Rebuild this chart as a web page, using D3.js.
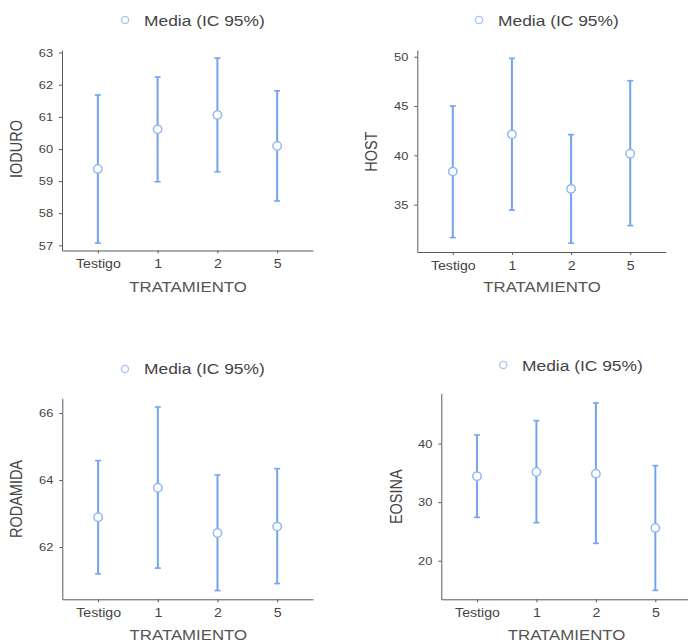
<!DOCTYPE html>
<html>
<head>
<meta charset="utf-8">
<script src="https://cdn.jsdelivr.net/npm/d3@7"></script>
<style>
  html, body { margin: 0; padding: 0; background: #fff; }
  svg { display: block; font-family: "Liberation Sans", Arial, sans-serif; }
</style>
</head>
<body>
<svg id="chart" width="688" height="642"></svg>
<script>
// ---- data ----
const categories = ["Testigo", "1", "2", "5"];
const legendLabel = "Media (IC 95%)";
const xTitle = "TRATAMIENTO";

const ioduroMean  = [59.38, 60.61, 61.06, 60.09];
const ioduroLower = [57.07, 58.98, 59.29, 58.38];
const ioduroUpper = [61.68, 62.24, 62.83, 61.81];
const ioduroTicks = [57, 58, 59, 60, 61, 62, 63];

const hostMean  = [38.35, 42.13, 36.60, 40.17];
const hostLower = [31.66, 34.44, 31.10, 32.88];
const hostUpper = [45.00, 49.84, 42.10, 47.57];
const hostTicks = [35, 40, 45, 50];

const rodaMean  = [62.89, 63.77, 62.42, 62.61];
const rodaLower = [61.20, 61.37, 60.70, 60.91];
const rodaUpper = [64.58, 66.18, 64.15, 64.34];
const rodaTicks = [62, 64, 66];

const eosMean  = [34.42, 35.16, 34.87, 25.60];
const eosLower = [27.40, 26.50, 22.96, 14.93];
const eosUpper = [41.48, 43.93, 46.95, 36.24];
const eosTicks = [20, 30, 40];

// ---- layout (positions/styles only) ----
const panels = [
  { name: "IODURO", mean: ioduroMean, lo: ioduroLower, hi: ioduroUpper, ticks: ioduroTicks,
    domain: [56.84, 63.08], x0: 62, x1: 313, yTop: 50, yBot: 250.5,
    leg: [125, 20, 144, 26], yt: [22, 149], xt: [188, 292] },
  { name: "HOST", mean: hostMean, lo: hostLower, hi: hostUpper, ticks: hostTicks,
    domain: [30.2, 50.68], x0: 417.3, x1: 665.7, yTop: 50, yBot: 252,
    leg: [479, 20, 498, 26], yt: [377.3, 151.7], xt: [542, 292] },
  { name: "RODAMIDA", mean: rodaMean, lo: rodaLower, hi: rodaUpper, ticks: rodaTicks,
    domain: [60.44, 66.44], x0: 62.3, x1: 313, yTop: 398.3, yBot: 599.3,
    leg: [125, 369, 144, 374], yt: [22, 499], xt: [188.3, 639.5] },
  { name: "EOSINA", mean: eosMean, lo: eosLower, hi: eosUpper, ticks: eosTicks,
    domain: [13.4, 48.6], x0: 441.3, x1: 691, yTop: 393.3, yBot: 599.3,
    leg: [503.3, 365, 522, 370.7], yt: [402, 496.7], xt: [566.5, 640] }
];

const barColor = "#74a3ee";
const markColor = "#93b8f2";
const axisColor = "#5a5a5a";
const textColor = "#444";

const svg = d3.select("#chart");

function stretchedText(g, x, y, str, size, anchor, fill, sx) {
  return g.append("text")
    .attr("transform", `translate(${x},${y}) scale(${sx},1)`)
    .attr("text-anchor", anchor)
    .attr("font-size", size)
    .attr("fill", fill)
    .text(str);
}

panels.forEach(p => {
  const g = svg.append("g");
  const y = d3.scaleLinear().domain(p.domain).range([p.yBot, p.yTop]);
  const x = d3.scalePoint().domain(categories).range([p.x0, p.x1]).padding(0.6);

  // y axis
  const ya = g.append("g").attr("transform", `translate(${p.x0},0)`)
    .call(d3.axisLeft(y).tickValues(p.ticks).tickFormat(d3.format("d"))
      .tickSize(3).tickSizeOuter(0).tickPadding(5));
  ya.select(".domain").attr("stroke", axisColor);
  ya.selectAll(".tick line").attr("stroke", axisColor);
  ya.selectAll(".tick text").attr("font-size", 11.5).attr("fill", textColor)
    .attr("font-family", "Liberation Sans, Arial, sans-serif")
    .attr("transform", `scale(1.12,1)`);

  // x axis
  const xa = g.append("g").attr("transform", `translate(0,${p.yBot})`)
    .call(d3.axisBottom(x).tickSize(3).tickSizeOuter(0).tickPadding(6));
  xa.select(".domain").attr("stroke", axisColor);
  xa.selectAll(".tick line").attr("stroke", axisColor);
  xa.selectAll(".tick text").attr("font-size", 12).attr("fill", textColor)
    .attr("font-family", "Liberation Sans, Arial, sans-serif")
    .attr("transform", `scale(1.18,1)`);

  // error bars
  const idx = d3.range(categories.length);
  g.selectAll(".bar").data(idx).join("line")
    .attr("x1", i => x(categories[i])).attr("x2", i => x(categories[i]))
    .attr("y1", i => y(p.lo[i])).attr("y2", i => y(p.hi[i]))
    .attr("stroke", barColor).attr("stroke-width", 2);
  ["lo", "hi"].forEach(k => {
    g.selectAll(".cap" + k).data(idx).join("line")
      .attr("x1", i => x(categories[i]) - 3).attr("x2", i => x(categories[i]) + 3)
      .attr("y1", i => y(p[k][i])).attr("y2", i => y(p[k][i]))
      .attr("stroke", barColor).attr("stroke-width", 1.6);
  });
  g.selectAll(".pt").data(idx).join("circle")
    .attr("cx", i => x(categories[i])).attr("cy", i => y(p.mean[i]))
    .attr("r", 4.2).attr("fill", "#fff")
    .attr("stroke", markColor).attr("stroke-width", 1.5);

  // legend
  g.append("circle").attr("cx", p.leg[0]).attr("cy", p.leg[1]).attr("r", 3.6)
    .attr("fill", "#fff").attr("stroke", "#a6c3f3").attr("stroke-width", 1.3);
  stretchedText(g, p.leg[2], p.leg[3], legendLabel, 14.5, "start", "#444", 1.2);

  // axis titles
  g.append("text")
    .attr("transform", `translate(${p.yt[0]},${p.yt[1]}) rotate(-90) scale(1,1.15)`)
    .attr("text-anchor", "middle").attr("font-size", 14.5).attr("fill", "#444")
    .text(p.name);
  stretchedText(g, p.xt[0], p.xt[1], xTitle, 14, "middle", "#555", 1.2);
});
</script>
</body>
</html>
